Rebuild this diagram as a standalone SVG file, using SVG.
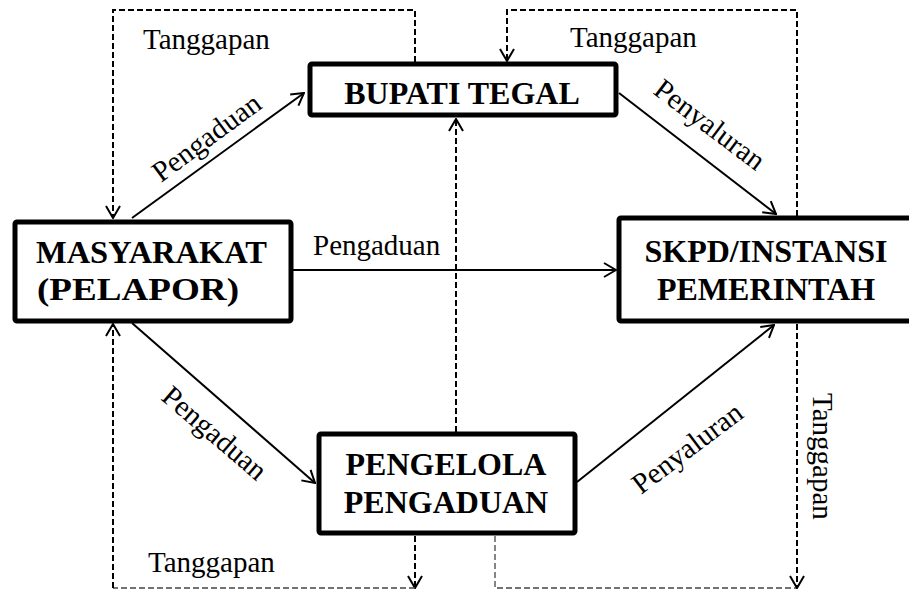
<svg xmlns="http://www.w3.org/2000/svg" width="909" height="591" viewBox="0 0 909 591">
<style>
.box{fill:#fff;stroke:#000;stroke-width:5}
.bt{font-family:"Liberation Serif","Times New Roman",serif;font-weight:bold;font-size:32px;fill:#000}
.lb{font-family:"Liberation Serif","Times New Roman",serif;font-size:29px;fill:#000}
.sol{fill:none;stroke:#000;stroke-width:2}
.dash{fill:none;stroke:#000;stroke-width:2;stroke-dasharray:6 3}
.dthin{fill:none;stroke:#444;stroke-width:1.3;stroke-dasharray:6 3}
</style>
<defs>
<marker id="ah" viewBox="0 0 14 16" refX="13" refY="8" markerWidth="14" markerHeight="16" markerUnits="userSpaceOnUse" orient="auto">
<path d="M1,1 L13,8 L1,15" fill="none" stroke="#000" stroke-width="2"/>
</marker>
</defs>
<rect width="909" height="591" fill="#fff"/>
<g id="connectors">
<line class="sol" x1="132" y1="218" x2="304" y2="93" marker-end="url(#ah)"/>
<line class="sol" x1="619" y1="93" x2="776" y2="214" marker-end="url(#ah)"/>
<line class="sol" x1="293" y1="270" x2="616" y2="270" marker-end="url(#ah)"/>
<line class="sol" x1="132" y1="323" x2="315" y2="483" marker-end="url(#ah)"/>
<line class="sol" x1="577" y1="482" x2="774" y2="325" marker-end="url(#ah)"/>
<path class="dash" d="M415,62 V10 H113 V218" marker-end="url(#ah)"/>
<path class="dash" d="M797,216 V10 H507 V61" marker-end="url(#ah)"/>
<path class="dash" d="M456,432 V119" marker-end="url(#ah)"/>
<path class="dash" d="M415,536 V588" marker-end="url(#ah)"/>
<path class="dthin" d="M415,588 H113"/>
<path class="dash" d="M113,588 V324" marker-end="url(#ah)"/>
<path class="dthin" d="M495,536 V588 H797"/>
<path class="dash" d="M797,324 V588" marker-end="url(#ah)"/>
<text class="lb" x="143" y="49">Tanggapan</text>
<text class="lb" x="570" y="47">Tanggapan</text>
<text class="lb" x="313" y="255">Pengaduan</text>
<text class="lb" x="148" y="572">Tanggapan</text>
<text class="lb" transform="translate(813,393) rotate(90)">Tanggapan</text>
<text class="lb" transform="translate(161,183) rotate(-36.5)">Pengaduan</text>
<text class="lb" transform="translate(652,93) rotate(37)">Penyaluran</text>
<text class="lb" transform="translate(160,399) rotate(40.5)">Pengaduan</text>
<text class="lb" transform="translate(641,495) rotate(-37)">Penyaluran</text>
</g>
<g id="bupati">
<rect class="box" x="310" y="64" width="306" height="51" rx="2"/>
<text class="bt" x="462" y="104" text-anchor="middle">BUPATI TEGAL</text>
</g>
<g id="masyarakat">
<rect class="box" x="15" y="222" width="276" height="99" rx="2"/>
<text class="bt" x="36" y="263" textLength="231" lengthAdjust="spacingAndGlyphs">MASYARAKAT</text>
<text class="bt" x="37" y="300" textLength="202" lengthAdjust="spacingAndGlyphs">(PELAPOR)</text>
</g>
<g id="skpd">
<rect class="box" x="619" y="218" width="300" height="103" rx="2"/>
<text class="bt" x="766" y="262" text-anchor="middle">SKPD/INSTANSI</text>
<text class="bt" x="766" y="300" text-anchor="middle">PEMERINTAH</text>
</g>
<g id="pengelola">
<rect class="box" x="319" y="434" width="256" height="99" rx="2"/>
<text class="bt" x="446" y="475" text-anchor="middle">PENGELOLA</text>
<text class="bt" x="446" y="513" text-anchor="middle">PENGADUAN</text>
</g>
</svg>
